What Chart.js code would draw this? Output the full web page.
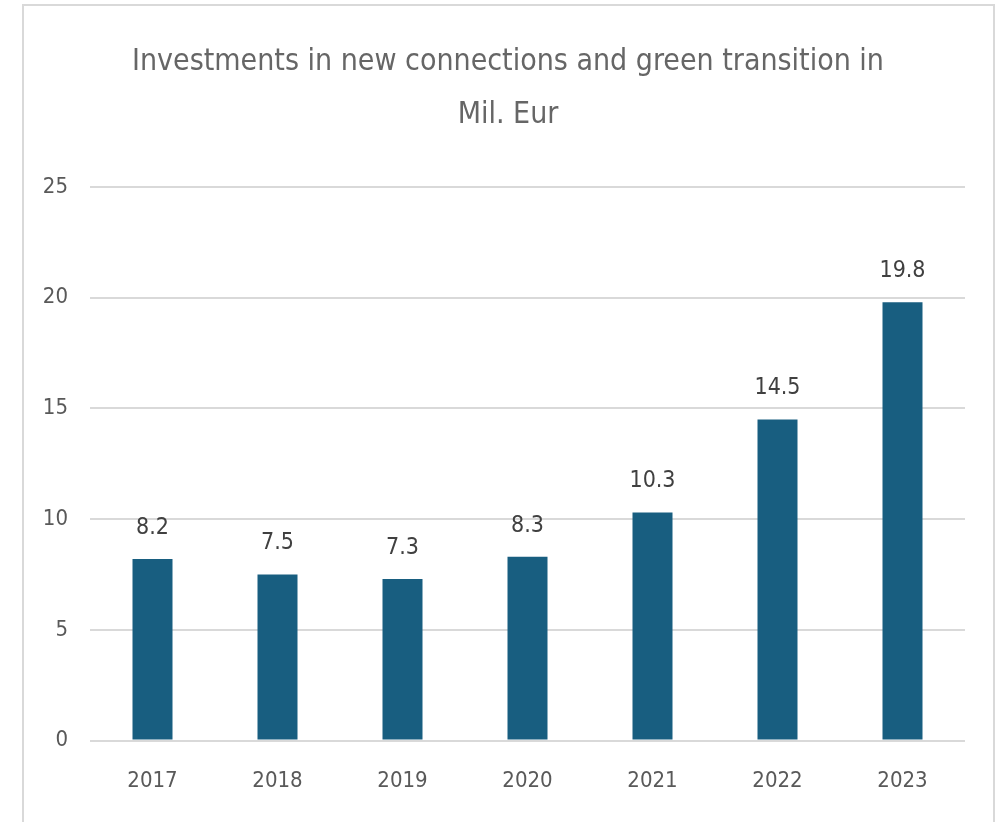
<!DOCTYPE html>
<html>
<head>
<meta charset="utf-8">
<script src="https://cdn.jsdelivr.net/npm/chart.js@4"></script>
<style>
  html, body { margin: 0; padding: 0; background: #fff; }
  #wrap { position: absolute; left: 0; top: 0; width: 1002px; height: 822px; }
  #frame {
    position: absolute; left: 22px; top: 4px; width: 969px; height: 840px;
    border: 2px solid #d9d9d9; pointer-events: none;
  }
</style>
</head>
<body>
<div id="wrap"><canvas id="investChart" width="1002" height="822"></canvas></div>
<div id="frame"></div>
<script>
// chart data
const years = ['2017', '2018', '2019', '2020', '2021', '2022', '2023'];
const investments = [8.2, 7.5, 7.3, 8.3, 10.3, 14.5, 19.8];
const titleLines = ['Investments in new connections and green transition in', 'Mil. Eur'];

const FONT = "'DejaVu Sans Condensed', 'Liberation Sans', sans-serif";
const GREY = '#595959';

// title centred on the chart frame, not on the plot
const frameTitle = {
  id: 'frameTitle',
  afterDraw(chart) {
    const ctx = chart.ctx;
    ctx.save();
    ctx.font = '30px ' + FONT;
    ctx.fillStyle = '#666666';
    ctx.textAlign = 'center';
    ctx.textBaseline = 'middle';
    titleLines.forEach((line, i) => {
      ctx.fillText(line, 508, 62 + i * 53);
    });
    ctx.restore();
  },
};

// draw value above each bar
const valueLabels = {
  id: 'valueLabels',
  afterDatasetsDraw(chart) {
    const ctx = chart.ctx;
    const meta = chart.getDatasetMeta(0);
    ctx.save();
    ctx.font = '23px ' + FONT;
    ctx.fillStyle = '#404040';
    ctx.textAlign = 'center';
    ctx.textBaseline = 'middle';
    meta.data.forEach((bar, i) => {
      ctx.fillText(investments[i].toFixed(1), bar.x, bar.y - 31);
    });
    ctx.restore();
  },
};

const ctx = document.getElementById('investChart').getContext('2d');
new Chart(ctx, {
  type: 'bar',
  data: {
    labels: years,
    datasets: [{
      data: investments,
      backgroundColor: '#185E80',
      categoryPercentage: 1,
      barPercentage: 0.32,
    }],
  },
  options: {
    responsive: false,
    animation: false,
    layout: { padding: { top: 187, right: 37, bottom: 9, left: 0 } },
    plugins: {
      legend: { display: false },
      tooltip: { enabled: false },
      title: { display: false },
    },
    scales: {
      x: {
        grid: { display: false },
        border: { display: false },
        ticks: { color: GREY, font: { family: FONT, size: 22 }, padding: 19 },
      },
      y: {
        min: 0,
        max: 25,
        afterFit(scale) { scale.width = 90; },
        grid: { color: '#d9d9d9', lineWidth: 2, drawTicks: false },
        border: { display: false },
        ticks: { stepSize: 5, color: GREY, font: { family: FONT, size: 22 }, padding: 22 },
      },
    },
  },
  plugins: [valueLabels, frameTitle],
});
</script>
</body>
</html>
